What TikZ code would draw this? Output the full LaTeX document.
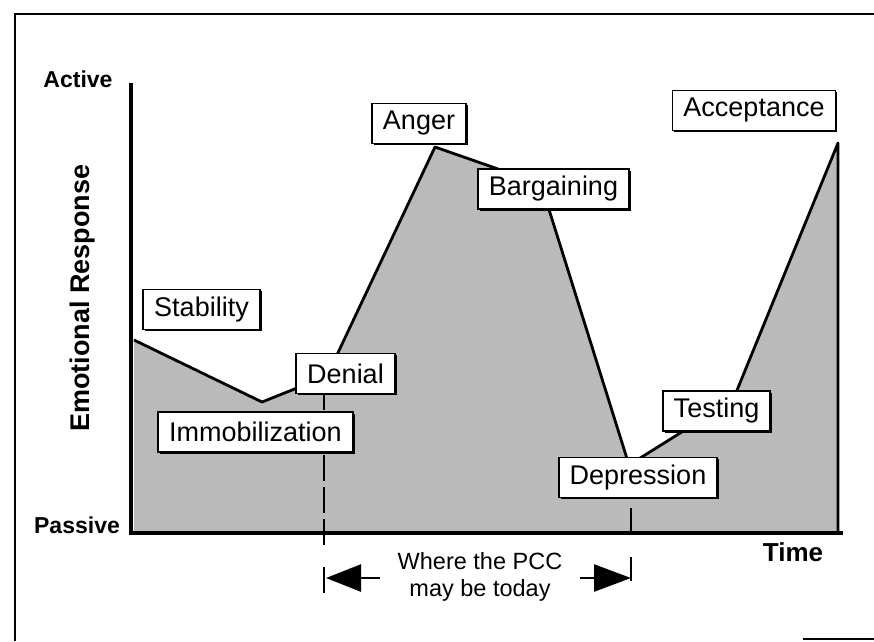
\documentclass[tikz,border=0pt]{standalone}
\usepackage{fontspec}
\setmainfont{Liberation Sans}
\usetikzlibrary{arrows.meta, positioning, shadows}

\tikzset{
  stage/.style={draw, line width=1.8pt, fill=white, inner xsep=11pt, minimum height=40pt,
    font=\fontsize{27}{30}\selectfont,
    drop shadow={shadow xshift=1.8pt, shadow yshift=-1.8pt, opacity=1, fill=black}},
  axislabel/.style={font=\bfseries\fontsize{23}{26}\selectfont},
}

\begin{document}
\begin{tikzpicture}[x=1pt, y=-1pt]
    \useasboundingbox (0,0) rectangle (874,641);
    % Frame
    \draw[line width=1.6pt] (874,14) -- (15,14) -- (15,641);
    \draw[line width=1.6pt] (803,639) -- (874,639);

    % Shaded response area
    \fill[black!27] (134,340) -- (262,402) -- (327,376) -- (435,147) -- (541,184)
        -- (629,465) -- (733,400) -- (838,143) -- (838,533) -- (134,533) -- cycle;
    \draw[line width=2.8pt, line join=round] (134,340) -- (262,402) -- (327,376) -- (435,147)
        -- (541,184) -- (629,465) -- (733,400) -- (838,143) -- (838,533);

    % Markers for the PCC span
    \draw[line width=2pt] (324,392) -- (324,410);
    \draw[line width=2pt, dash pattern=on 26pt off 6pt] (324,455) -- (324,545);
    \draw[line width=2pt] (631,508) -- (631,533);

    % Stages
    \node[stage] (stab) at (201.5,309.5) {Stability};
    \node[stage] (immo) at (255.5,432) {Immobilization};
    \node[stage] (deni) at (345.5,373.5) {Denial};
    \node[stage] (ange) at (419,123.5) {Anger};
    \node[stage] (barg) at (553.5,189) {Bargaining};
    \node[stage] (test) at (716.5,411) {Testing};
    \node[stage] (depr) at (638,477.5) {Depression};
    \node[stage] (acce) at (754,110.5) {Acceptance};

    % Axes
    \draw[line width=3.5pt] (131,83) -- (131,533) -- (843,533);
    \node[axislabel] (active) at (78,79) {Active};
    \node[axislabel] (passive) at (77,525) {Passive};
    \node[axislabel, font=\bfseries\fontsize{26}{30}\selectfont] (time) at (793,552) {Time};
    \node[axislabel, rotate=90, font=\bfseries\fontsize{27}{30}\selectfont] (resp) at (83,298) {Emotional Response};

    % Where the PCC may be
    \node[font=\fontsize{23.5}{27}\selectfont, align=center] (pcc) at (480,577) {Where the PCC\\may be today};
    \draw[line width=2.5pt, -{Triangle[length=35pt,width=27pt]}] ([xshift=-14pt]pcc.west |- 0,578) -- (326,578);
    \draw[line width=2.5pt, -{Triangle[length=37pt,width=27pt]}] ([xshift=14pt]pcc.east |- 0,578) -- (631,578);
    \draw[line width=2.5pt] (324,567) -- (324,593);
    \draw[line width=2.5pt] (631,557) -- (631,581);
\end{tikzpicture}
\end{document}
